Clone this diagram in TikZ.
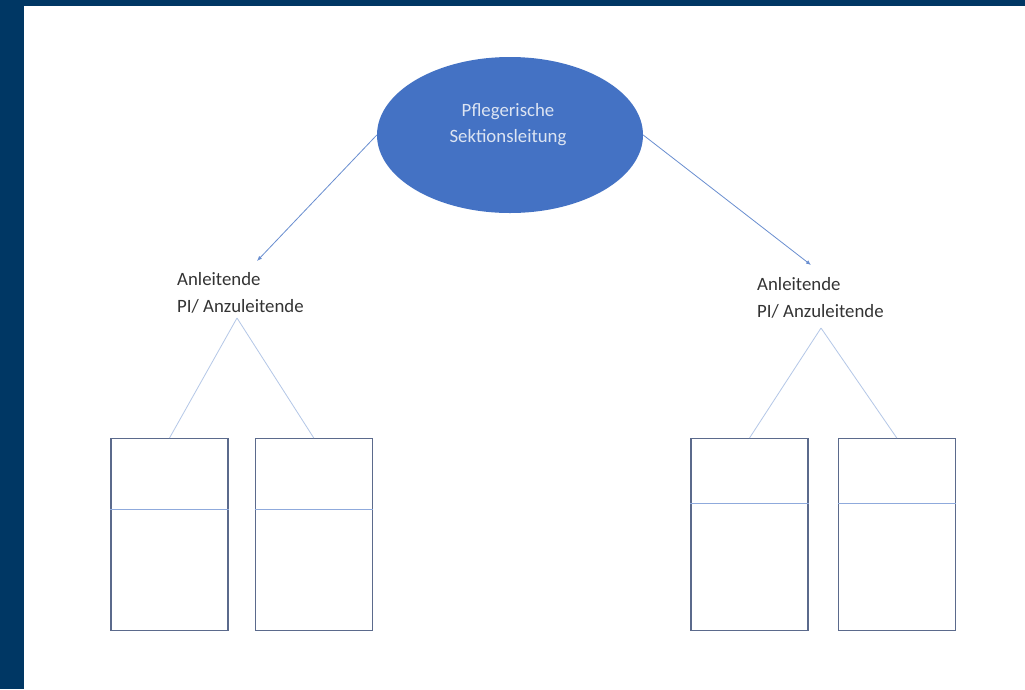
\documentclass[tikz,border=0pt]{standalone}
\usepackage{fontspec}
\setmainfont{Carlito}
\usepackage{tikz}
\usetikzlibrary{
  arrows.meta,
  shapes.geometric,
  positioning,
  calc
}
\definecolor{psFrame}{HTML}{003764}
\definecolor{psBlue}{HTML}{4472C4}
\definecolor{psText}{HTML}{DCE4F2}
\definecolor{psLine}{HTML}{8FAADC}
\definecolor{psThin}{HTML}{B4C7E7}
\definecolor{psBox}{HTML}{5B6A8C}
\definecolor{psLabel}{HTML}{333333}
\tikzset{
  lead/.style={
    ellipse, fill=psBlue, draw=none, minimum width=266pt, minimum height=156pt, inner sep=0pt
  },
  leadtext/.style={font=\fontsize{18.8}{26}\selectfont, text=psText, align=center, inner sep=0pt},
  rolelabel/.style={font=\fontsize{18.8}{27}\selectfont, text=psLabel, align=left, inner sep=0pt, anchor=north west},
  slot/.style={draw=psBox, line width=1.3pt, fill=white, minimum width=117pt, minimum height=192pt, inner sep=0pt, anchor=north},
  divider/.style={draw=psLine, line width=0.9pt},
  pointer/.style={-{Latex[length=5pt,width=4pt]}, line width=0.8pt, psBlue!80},
  branch/.style={line width=0.8pt, psThin}
}

\begin{document}
\begin{tikzpicture}[x=1pt, y=-1pt]
  \useasboundingbox (0,0) rectangle (1025,689);
  \fill[psFrame] (0,0) rectangle (1025,689);
  \fill[white] (24,6) rectangle (1025,689);

  \node[lead] (psl) at (510,135) {};
  \node[leadtext] (pslt) at (508,125) {Pflegerische\\Sektionsleitung};

  \node[rolelabel] (al) at (177,272) {Anleitende\\PI/ Anzuleitende};
  \node[rolelabel] (ar) at (757,277) {Anleitende\\PI/ Anzuleitende};

  \coordinate (altip) at (257,261);
  \coordinate (artip) at (811,265);
  \draw[pointer] (psl.west) -- (altip);
  \draw[pointer] (psl.east) -- (artip);

  \coordinate (alfork) at (237,318);
  \coordinate (arfork) at (821,328);

  \node[slot] (l1) at (169.5,438) {};
  \node[slot, right=26pt of l1] (l2) {};
  \node[slot] (r1) at (749.5,438) {};
  \node[slot, right=29pt of r1] (r2) {};

  \draw[branch] (alfork) -- (l1.north); \draw[branch] (alfork) -- (l2.north);
  \draw[branch] (arfork) -- (r1.north); \draw[branch] (arfork) -- (r2.north);

  \draw[divider] ($(l1.north west)+(0,71)$) -- ($(l1.north east)+(0,71)$);
  \draw[divider] ($(l2.north west)+(0,71)$) -- ($(l2.north east)+(0,71)$);
  \draw[divider] ($(r1.north west)+(0,65)$) -- ($(r1.north east)+(0,65)$);
  \draw[divider] ($(r2.north west)+(0,65)$) -- ($(r2.north east)+(0,65)$);
\end{tikzpicture}
\end{document}
